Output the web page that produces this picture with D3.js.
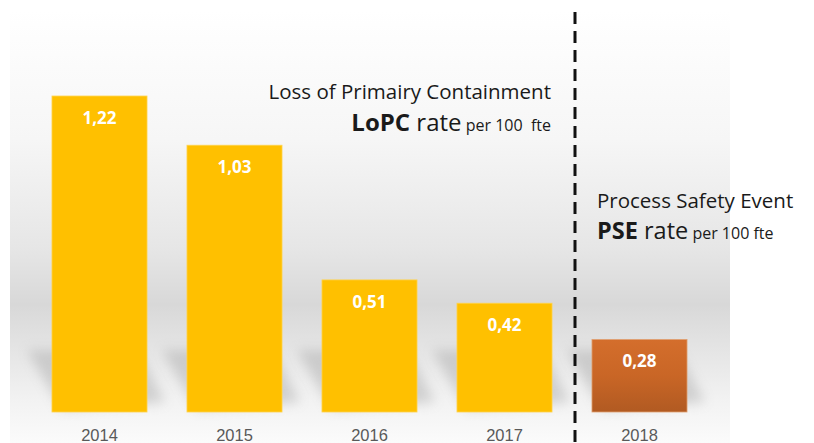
<!DOCTYPE html>
<html lang="en">
  <head>
    <meta charset="UTF-8">
    <title>LoPC and PSE rate per 100 fte</title>
    <style>
      body { margin: 0; background: #fff; }
      svg { display: block; font-family: "Open Sans", Lato, sans-serif; }
      .year { fill: #595959; font-size: 16.5px; }
      .value { fill: #fff; font-size: 17px; font-weight: bold; }
      .title { fill: #1a1a1a; }
    </style>
    <script src="https://d3js.org/d3.v7.min.js"></script>
  </head>
  <body>
    <script>
      const width = 814;
      const height = 443;

      const years = ["2014", "2015", "2016", "2017", "2018"];
      const rates = [1.22, 1.03, 0.51, 0.42, 0.28];
      const labels = ["1,22", "1,03", "0,51", "0,42", "0,28"];
      const kinds = ["LoPC", "LoPC", "LoPC", "LoPC", "PSE"];

      const data = years.map((y, i) => ({ year: y, rate: rates[i], label: labels[i], kind: kinds[i] }));

      const svg = d3.select("body")
        .append("svg")
        .attr("width", width)
        .attr("height", height);

      const defs = svg.append("defs");

      // background panel gradient
      const bg = defs.append("linearGradient")
        .attr("id", "bg")
        .attr("x1", 0).attr("y1", 0).attr("x2", 0).attr("y2", 1);
      [[0, "#ffffff"], [0.3, "#f6f6f6"], [0.55, "#e6e6e6"], [0.68, "#d8d8d8"], [0.78, "#e4e4e4"], [0.9, "#f2f2f2"], [1, "#fbfbfb"]]
        .forEach(s => bg.append("stop").attr("offset", s[0]).attr("stop-color", s[1]));

      const pse = defs.append("linearGradient")
        .attr("id", "pse")
        .attr("x1", 0).attr("y1", 0).attr("x2", 0).attr("y2", 1);
      pse.append("stop").attr("offset", 0).attr("stop-color", "#d46e2c");
      pse.append("stop").attr("offset", 0.5).attr("stop-color", "#c96626");
      pse.append("stop").attr("offset", 1).attr("stop-color", "#b15a22");

      defs.append("filter")
        .attr("id", "blur")
        .attr("x", "-50%").attr("y", "-50%").attr("width", "200%").attr("height", "200%")
        .append("feGaussianBlur")
        .attr("stdDeviation", 6);

      svg.append("rect")
        .attr("x", 10).attr("y", 10)
        .attr("width", 720).attr("height", 433)
        .attr("fill", "url(#bg)");

      const x = d3.scaleBand()
        .domain(years)
        .range([32, 707])
        .paddingInner(0.296)
        .paddingOuter(0.148);

      const y = d3.scaleLinear()
        .domain([0, 1.4])
        .range([412, 412 - 259 * 1.4]);

      // soft floor shadows behind the bars
      svg.selectAll(".shadow")
        .data(data)
        .enter()
        .append("path")
        .attr("class", "shadow")
        .attr("d", d => {
          const x0 = x(d.year), x1 = x0 + x.bandwidth(), b = y(0);
          return `M${x0 - 25},${b - 62} L${x1 - 10},${b - 62} L${x1 + 18},${b - 10} L${x0 + 10},${b - 2} Z`;
        })
        .attr("fill", "#a0a0a0")
        .attr("opacity", 0.4)
        .attr("filter", "url(#blur)");

      svg.selectAll(".bar")
        .data(data)
        .enter()
        .append("rect")
        .attr("class", "bar")
        .attr("x", d => x(d.year))
        .attr("y", d => y(d.rate))
        .attr("width", x.bandwidth())
        .attr("height", d => y(0) - y(d.rate))
        .attr("fill", d => d.kind === "PSE" ? "url(#pse)" : "#ffc000")
        .attr("stroke", d => d.kind === "PSE" ? "#e0a070" : "#ffd34d")
        .attr("stroke-width", 0.8);

      svg.selectAll(".value")
        .data(data)
        .enter()
        .append("text")
        .attr("class", "value")
        .attr("text-anchor", "middle")
        .attr("x", d => x(d.year) + x.bandwidth() / 2)
        .attr("y", d => y(d.rate) + 28)
        .text(d => d.label);

      svg.append("g")
        .attr("transform", "translate(0,441)")
        .call(d3.axisBottom(x).tickSize(0).tickPadding(0))
        .call(g => g.select(".domain").remove())
        .selectAll("text")
        .attr("class", "year")
        .attr("dy", 0)
        .attr("font-family", null)
        .attr("font-size", null)
        .attr("fill", null);

      // divider between LoPC and PSE
      svg.append("line")
        .attr("x1", 575).attr("x2", 575)
        .attr("y1", 12).attr("y2", height)
        .attr("stroke", "#111")
        .attr("stroke-width", 3)
        .attr("stroke-dasharray", "12,7");

      svg.append("text").attr("class", "title")
        .attr("text-anchor", "end")
        .attr("x", 551).attr("y", 99)
        .attr("font-size", 20.5)
        .text("Loss of Primairy Containment");
      const t1b = svg.append("text").attr("class", "title").attr("text-anchor", "end").attr("x", 551).attr("y", 131);
      t1b.append("tspan").attr("font-size", 24).attr("font-weight", "bold").text("LoPC");
      t1b.append("tspan").attr("font-size", 24).text(" rate");
      t1b.append("tspan").attr("font-size", 16).text(" per 100\u00a0 fte");

      svg.append("text").attr("class", "title")
        .attr("x", 597).attr("y", 208)
        .attr("font-size", 20.5)
        .text("Process Safety Event");
      const t2b = svg.append("text").attr("class", "title").attr("x", 597).attr("y", 239);
      t2b.append("tspan").attr("font-size", 23.5).attr("font-weight", "bold").text("PSE");
      t2b.append("tspan").attr("font-size", 23.5).text(" rate");
      t2b.append("tspan").attr("font-size", 16).text(" per 100 fte");
    </script>
  </body>
</html>
